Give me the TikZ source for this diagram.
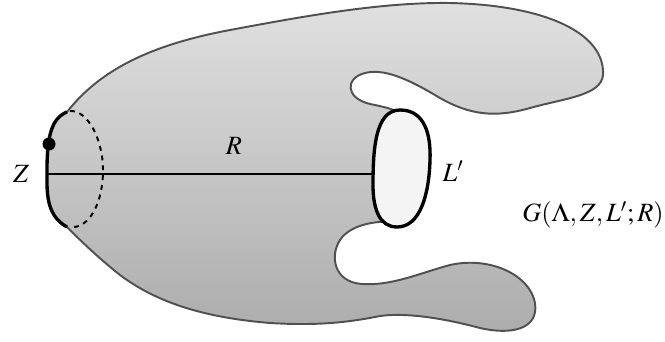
\documentclass[tikz,border=0pt]{standalone}
\usepackage{mathptmx}
\usepackage{tikz}
\usetikzlibrary{calc}
\definecolor{blobtop}{RGB}{224,224,224}
\definecolor{blobbot}{RGB}{172,172,172}
\definecolor{blobline}{RGB}{80,80,80}
\definecolor{capfill}{RGB}{244,244,244}

\begin{document}
\begin{tikzpicture}[
  x=0.02cm, y=-0.02cm,
  blob/.style={draw=blobline, line width=1.1pt, top color=blobtop, bottom color=blobbot},
  rim/.style={draw=black, line width=1.9pt},
  lbl/.style={font=\fontsize{15}{18}\selectfont, inner sep=0pt},
  every node/.style={inner sep=0pt}
]
  \useasboundingbox (0,0) rectangle (665,341);
  % the region
  \path[blob] (67,112) .. controls (100,70) and (150,45) .. (230,30)
    .. controls (300,17) and (380,2) .. (450,3)
    .. controls (540,5) and (600,30) .. (603,70)
    .. controls (606,95) and (570,97) .. (530,108)
    .. controls (495,118) and (470,115) .. (440,98)
    .. controls (410,80) and (385,68) .. (365,73)
    .. controls (345,78) and (345,98) .. (370,104)
    .. controls (380,106) and (390,108) .. (398,112)
    -- (398,222)
    .. controls (375,220) and (350,225) .. (340,240)
    .. controls (330,255) and (333,282) .. (362,284)
    .. controls (392,286) and (420,273) .. (450,265)
    .. controls (490,256) and (530,275) .. (535,303)
    .. controls (539,330) and (510,335) .. (480,328)
    .. controls (450,320) and (410,312) .. (380,316)
    .. controls (350,322) and (320,326) .. (270,323)
    .. controls (210,318) and (160,305) .. (120,275)
    .. controls (95,255) and (80,240) .. (67,227)
    .. controls (45,215) and (47,190) .. (47,170)
    .. controls (47,135) and (52,118) .. (67,112) -- cycle;
  % end Z
  \draw[black, line width=1.1pt, dash pattern=on 2.8pt off 2.8pt]
    (70,111) .. controls (88,110) and (103,140) .. (103,170)
    .. controls (103,205) and (88,228) .. (72,227);
  \draw[rim] (67,227) .. controls (45,215) and (47,190) .. (47,170)
    .. controls (47,135) and (52,118) .. (67,112);
  \fill (49,144) circle[radius=6.5];
  % end L'
  \draw[rim, fill=capfill] (400,110) .. controls (425,110) and (431,135) .. (430,160)
    .. controls (429,195) and (420,227) .. (397,227)
    .. controls (380,227) and (373,210) .. (373,185)
    .. controls (373,150) and (375,110) .. (400,110) -- cycle;
  \coordinate (zend) at (47,174);
  \coordinate (lend) at (373,174);
  \draw[black, line width=1.6pt] (zend) -- (lend);
  \node[lbl] (zlab) at (21,174) {$Z$};
  \node[lbl] (rlab) at (234,146) {$R$};
  \node[lbl] (llab) at (453,171) {$L'$};
  \node[lbl] (glab) at (593,215) {$G(\Lambda,Z,L';R)$};
\end{tikzpicture}
\end{document}
